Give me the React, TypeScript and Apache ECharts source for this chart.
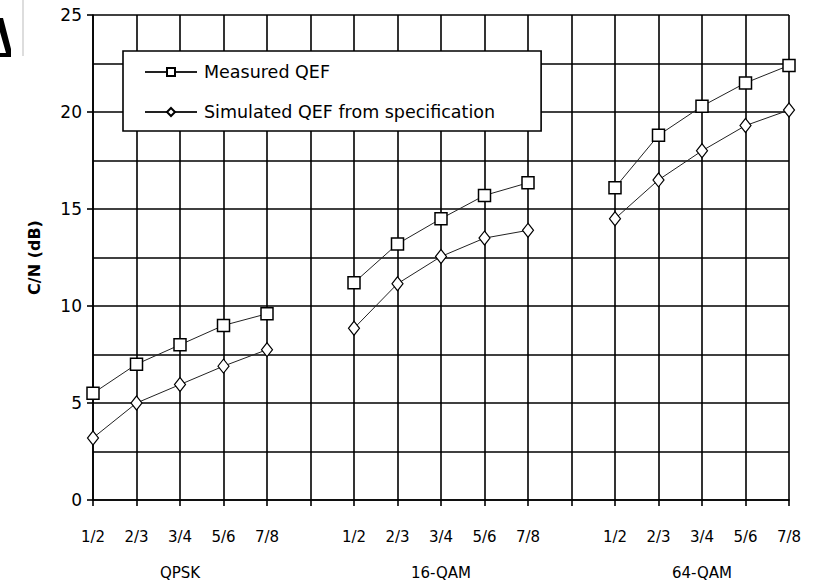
import React, { useEffect, useRef } from "react";
import * as echarts from "echarts";

const rateLabels = ["1/2", "2/3", "3/4", "5/6", "7/8", "", "1/2", "2/3", "3/4", "5/6", "7/8", "", "1/2", "2/3", "3/4", "5/6", "7/8"];
const groupLabels = ["", "", "QPSK", "", "", "", "", "", "16-QAM", "", "", "", "", "", "64-QAM", "", ""];
const measuredQEF = [5.5, 7.0, 8.0, 9.0, 9.6, null, 11.2, 13.2, 14.5, 15.7, 16.35, null, 16.1, 18.8, 20.3, 21.5, 22.4];
const simulatedQEF = [3.2, 5.0, 5.95, 6.9, 7.75, null, 8.85, 11.15, 12.55, 13.5, 13.9, null, 14.5, 16.5, 18.0, 19.3, 20.1];

const FONT = "DejaVu Sans";

function toPairs(arr: (number | null)[]) {
  return arr.map((v, i) => [i, v]);
}

export default function App() {
  const ref = useRef<HTMLDivElement>(null);
  useEffect(() => {
    if (!ref.current) return;
    const chart = echarts.init(ref.current, null, { renderer: "svg" });
    const gridLine = { show: true, lineStyle: { color: "#000", width: 1.6, type: "solid" as const } };
    chart.setOption({
      animation: false,
      backgroundColor: "#fff",
      grid: { left: 93, top: 15, width: 696, height: 487, show: false },
      xAxis: [
        {
          type: "value",
          min: 0,
          max: rateLabels.length - 1,
          interval: 1,
          axisLine: { show: true, lineStyle: { color: "#000", width: 1.6 } },
          axisTick: { show: true, length: 6, lineStyle: { color: "#000", width: 1.6 } },
          axisLabel: {
            margin: 29,
            fontFamily: FONT,
            fontSize: 15,
            color: "#000",
            formatter: (v: number) => rateLabels[Math.round(v)] ?? "",
          },
          splitLine: gridLine,
        },
        {
          type: "value",
          position: "bottom",
          offset: 36,
          min: 0,
          max: groupLabels.length - 1,
          interval: 1,
          axisLine: { show: false },
          axisTick: { show: false },
          splitLine: { show: false },
          axisLabel: {
            margin: 29,
            fontFamily: FONT,
            fontSize: 15,
            color: "#000",
            formatter: (v: number) => groupLabels[Math.round(v)] ?? "",
          },
        },
      ],
      yAxis: {
        type: "value",
        min: 0,
        max: 25,
        interval: 5,
        name: "C/N (dB)",
        nameLocation: "middle",
        nameRotate: 90,
        nameGap: 51,
        nameTextStyle: { fontFamily: FONT, fontSize: 16, fontWeight: "bold", color: "#000" },
        axisLine: { show: true, lineStyle: { color: "#000", width: 1.6 } },
        axisTick: { show: true, length: 6, lineStyle: { color: "#000", width: 1.6 } },
        axisLabel: { margin: 11, fontFamily: FONT, fontSize: 17, color: "#000" },
        splitLine: gridLine,
        minorTick: { show: false, splitNumber: 2 },
        minorSplitLine: { show: true, lineStyle: { color: "#000", width: 1.6 } },
      },
      legend: {
        orient: "vertical",
        left: 123,
        top: 51,
        padding: [12, 46, 10, 21],
        itemGap: 22,
        itemWidth: 52,
        itemHeight: 10,
        backgroundColor: "#fff",
        borderColor: "#000",
        borderWidth: 1.6,
        borderRadius: 0,
        textStyle: { fontFamily: FONT, fontSize: 17.5, color: "#000", padding: [0, 0, 0, 2] },
        data: ["Measured QEF", "Simulated QEF from specification"],
      },
      series: [
        {
          name: "Measured QEF",
          type: "line",
          xAxisIndex: 0,
          data: toPairs(measuredQEF),
          connectNulls: false,
          symbol: "rect",
          symbolSize: 12,
          lineStyle: { color: "#222", width: 1 },
          itemStyle: { color: "#fff", borderColor: "#000", borderWidth: 1.5 },
          z: 5,
        },
        {
          name: "Simulated QEF from specification",
          type: "line",
          xAxisIndex: 0,
          data: toPairs(simulatedQEF),
          connectNulls: false,
          symbol: "diamond",
          symbolSize: [11, 14],
          lineStyle: { color: "#222", width: 1 },
          itemStyle: { color: "#fff", borderColor: "#000", borderWidth: 1.2 },
          z: 5,
        },
      ],
      graphic: [
        {
          type: "polygon",
          shape: { points: [[0, 18], [3, 18], [11, 49], [11, 57], [0, 57], [0, 53], [6, 53], [0, 32]] },
          style: { fill: "#000" },
        },
        {
          type: "line",
          shape: { x1: 23, y1: 0, x2: 23, y2: 56 },
          style: { stroke: "#bbb", lineWidth: 1 },
        },
      ],
    });
    return () => chart.dispose();
  }, []);
  return <div ref={ref} style={{ width: 813, height: 580, position: "absolute", left: 0, top: 0 }} />;
}
